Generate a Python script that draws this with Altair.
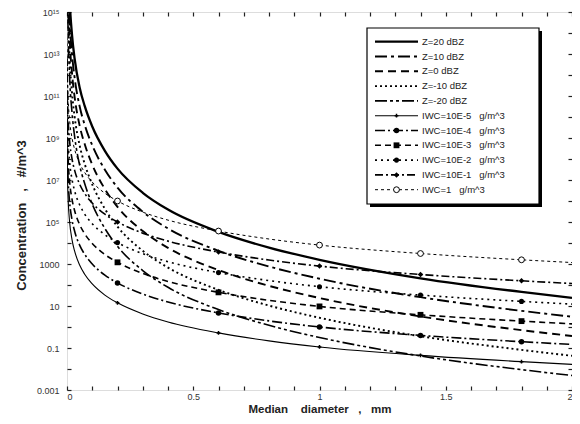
import altair as alt
import pandas as pd

# Median diameter grid (mm)
diam = [0.0005, 0.002, 0.005, 0.01, 0.02, 0.03, 0.05, 0.07, 0.1, 0.15, 0.2,
        0.3, 0.4, 0.6, 0.8, 1.0, 1.4, 1.8, 2.0]

# log10(concentration, #/m^3)
z20 = [23.5, 19.89, 17.51, 15.7, 13.89, 12.79, 11.41, 10.53, 9.55, 8.39, 7.54,
       6.39, 5.59, 4.53, 3.78, 3.2, 2.32, 1.67, 1.39]
z10 = [22.6, 18.99, 16.61, 14.8, 12.99, 11.89, 10.51, 9.63, 8.65, 7.49, 6.64,
       5.49, 4.69, 3.63, 2.88, 2.3, 1.42, 0.77, 0.49]
z0 = [21.68, 18.07, 15.69, 13.88, 12.07, 10.97, 9.59, 8.71, 7.73, 6.57, 5.72,
      4.57, 3.77, 2.71, 1.96, 1.38, 0.5, -0.15, -0.43]
zm10 = [20.74, 17.13, 14.75, 12.94, 11.13, 10.03, 8.65, 7.77, 6.79, 5.63, 4.78,
        3.63, 2.83, 1.77, 1.02, 0.44, -0.44, -1.09, -1.37]
zm20 = [19.8, 16.19, 13.81, 12.0, 10.19, 9.09, 7.71, 6.83, 5.85, 4.69, 3.84,
        2.69, 1.89, 0.83, 0.08, -0.5, -1.38, -2.03, -2.31]
iwc_e5 = [8.95, 7.15, 5.95, 5.05, 4.15, 3.62, 2.95, 2.51, 2.05, 1.52, 1.15,
          0.62, 0.24, -0.28, -0.66, -0.95, -1.35, -1.65, -1.78]
iwc_e4 = [9.9, 8.1, 6.9, 6.0, 5.1, 4.57, 3.9, 3.46, 3.0, 2.47, 2.1,
          1.57, 1.19, 0.67, 0.29, 0.0, -0.4, -0.7, -0.83]
iwc_e3 = [10.88, 9.08, 7.88, 6.98, 6.08, 5.55, 4.88, 4.44, 3.98, 3.45, 3.08,
          2.55, 2.17, 1.65, 1.27, 0.98, 0.58, 0.28, 0.15]
iwc_e2 = [11.82, 10.02, 8.82, 7.92, 7.02, 6.49, 5.82, 5.38, 4.92, 4.39, 4.02,
          3.49, 3.11, 2.59, 2.21, 1.92, 1.52, 1.22, 1.09]
iwc_e1 = [12.8, 11.0, 9.8, 8.9, 8.0, 7.47, 6.8, 6.36, 5.9, 5.37, 5.0,
          4.47, 4.09, 3.57, 3.19, 2.9, 2.5, 2.2, 2.07]
iwc_1 = [13.8, 12.0, 10.8, 9.9, 9.0, 8.47, 7.8, 7.36, 6.9, 6.37, 6.0,
         5.47, 5.09, 4.57, 4.19, 3.9, 3.5, 3.2, 3.07]

SP = "\u00a0\u00a0\u00a0"
labels = ["Z=20 dBZ", "Z=10 dBZ", "Z=0 dBZ", "Z=-10 dBZ", "Z=-20 dBZ",
          "IWC=10E-5" + SP + "g/m^3", "IWC=10E-4" + SP + "g/m^3", "IWC=10E-3" + SP + "g/m^3",
          "IWC=10E-2" + SP + "g/m^3", "IWC=10E-1" + SP + "g/m^3", "IWC=1" + SP + "g/m^3"]
values = [z20, z10, z0, zm10, zm20, iwc_e5, iwc_e4, iwc_e3, iwc_e2, iwc_e1, iwc_1]
marker_d = [0.2, 0.6, 1.0, 1.4, 1.8]

# styles: (dash, width, marker shape, marker size, marker filled)
styles = [
    ([], 2.3, None, 0, True),
    ([12, 4, 3, 4], 1.9, None, 0, True),
    ([8, 5], 1.9, None, 0, True),
    ([2, 3], 1.9, None, 0, True),
    ([12, 3, 3, 3, 3, 3], 1.6, None, 0, True),
    ([], 1.1, "cross", 14, True),
    ([10, 3, 2, 3], 1.6, "circle", 30, True),
    ([6, 4], 1.6, "square", 34, True),
    ([2, 4], 1.6, "circle", 26, True),
    ([8, 3, 2, 3], 1.6, "diamond", 30, True),
    ([3, 3], 1.0, "circle", 34, False),
]

rows = []
for name, vals in zip(labels, values):
    for d, v in zip(diam, vals):
        rows.append({"series": name, "D": d, "N": 10 ** v})
df = pd.DataFrame(rows)

W, H = 505, 378
FONT = "Liberation Sans"

xscale = alt.Scale(domain=[0, 2], nice=False, zero=False)
yscale = alt.Scale(type="log", domain=[1e-3, 1e15], nice=False)

xticks = [round(i * 0.1, 1) for i in range(21)]
yticks = [10.0 ** e for e in range(-3, 16)]
ylab_expr = ("datum.value >= 9e14 ? '10¹⁵' : datum.value >= 9e12 && datum.value < 2e13 ? '10¹³' : "
             "datum.value >= 9e10 && datum.value < 2e11 ? '10¹¹' : datum.value >= 9e8 && datum.value < 2e9 ? '10⁹' : "
             "datum.value >= 9e6 && datum.value < 2e7 ? '10⁷' : datum.value >= 9e4 && datum.value < 2e5 ? '10⁵' : "
             "datum.value >= 900 && datum.value < 2000 ? '1000' : datum.value >= 9 && datum.value < 20 ? '10' : "
             "datum.value >= 0.09 && datum.value < 0.2 ? '0.1' : datum.value < 0.002 ? '0.001' : ''")

main_x = alt.Axis(values=[0, 0.5, 1, 1.5, 2], format="~g", ticks=False, domain=False, grid=False,
                  title="Median" + SP + "\u00a0diameter" + SP + "," + SP + "mm",
                  labelFont=FONT, labelFontSize=9, labelColor="#333", labelPadding=2,
                  titleFont=FONT, titleFontSize=11.5, titleFontWeight="bold", titleColor="#222",
                  titlePadding=2)
main_y = alt.Axis(values=yticks, labelExpr=ylab_expr, ticks=False, domain=False, grid=False,
                  title="Concentration" + SP + "," + SP + "#/m^3",
                  labelFont=FONT, labelFontSize=9, labelColor="#333", labelPadding=8,
                  titleFont=FONT, titleFontSize=13, titleFontWeight="bold", titleColor="#222",
                  titlePadding=8, titleY=203)


def tick_axis(orient, offset, vals):
    return alt.Axis(orient=orient, offset=offset, values=vals, labels=False, domain=False,
                    grid=False, title=None, ticks=True, tickSize=4, tickColor="#222", tickWidth=1.2)


axis_pairs = [
    (main_x, main_y),
    (tick_axis("top", -H, xticks), tick_axis("right", -W, yticks)),
    (tick_axis("bottom", -H, xticks), tick_axis("left", -W, yticks)),
]

layers = []
for i, (name, st) in enumerate(zip(labels, styles)):
    dash, width, shape, msize, filled = st
    if i < len(axis_pairs):
        ax, ay = axis_pairs[i]
    else:
        ax, ay = None, None
    base = alt.Chart(df).transform_filter(alt.datum.series == name)
    line_kwargs = dict(color="black", strokeWidth=width, interpolate="monotone", clip=True)
    if dash:
        line_kwargs["strokeDash"] = dash
    layers.append(base.mark_line(**line_kwargs).encode(
        x=alt.X("D:Q", scale=xscale, axis=ax),
        y=alt.Y("N:Q", scale=yscale, axis=ay),
    ))
    if shape:
        pk = dict(shape=shape, size=msize, color="black", filled=True, opacity=1, clip=True)
        if not filled:
            pk = dict(shape=shape, size=msize, stroke="black", fill="white", filled=True,
                      strokeWidth=1, opacity=1, clip=True)
        layers.append(
            alt.Chart(df).transform_filter(alt.datum.series == name)
            .transform_filter(alt.FieldOneOfPredicate(field="D", oneOf=marker_d))
            .mark_point(**pk).encode(
                x=alt.X("D:Q", scale=xscale, axis=None),
                y=alt.Y("N:Q", scale=yscale, axis=None),
            ))

# Legend box (layout positions, in pixels of the plot area)
one = pd.DataFrame({"k": [0]})
LX0, LX1, LY0, LY1 = 300, 472, 16, 192
layers.append(alt.Chart(one).mark_rect(color="black").encode(
    x=alt.value(LX0 + 3), x2=alt.value(LX1 + 3), y=alt.value(LY0 + 3), y2=alt.value(LY1 + 3)))
layers.append(alt.Chart(one).mark_rect(fill="white", stroke="black", strokeWidth=1.2).encode(
    x=alt.value(LX0), x2=alt.value(LX1), y=alt.value(LY0), y2=alt.value(LY1)))

row0, dy = 29.7, 14.8
sx0, sx1, tx = 308, 351, 355
for i, (name, st) in enumerate(zip(labels, styles)):
    dash, width, shape, msize, filled = st
    yy = row0 + i * dy
    rk = dict(color="black", strokeWidth=width)
    if dash:
        rk["strokeDash"] = dash
    layers.append(alt.Chart(one).mark_rule(**rk).encode(
        x=alt.value(sx0), x2=alt.value(sx1), y=alt.value(yy)))
    if shape:
        if filled:
            pk = dict(shape=shape, size=msize, color="black", filled=True, opacity=1)
        else:
            pk = dict(shape=shape, size=msize, stroke="black", fill="white", filled=True,
                      strokeWidth=1, opacity=1)
        layers.append(alt.Chart(one).mark_point(**pk).encode(
            x=alt.value((sx0 + sx1) / 2), y=alt.value(yy)))
    layers.append(alt.Chart(one).mark_text(text=name, align="left", baseline="middle",
                                           font=FONT, fontSize=9.5, color="#222").encode(
        x=alt.value(tx), y=alt.value(yy)))

chart = alt.layer(*layers).resolve_axis(x="independent", y="independent").properties(
    width=W, height=H,
    autosize=alt.AutoSizeParams(type="none"),
    padding={"left": 59, "top": 4, "right": 0, "bottom": 26},
).configure_view(stroke="black", strokeWidth=1.3).configure(background="white")

chart.save("out.html", embed_options={"renderer": "svg", "actions": False})
